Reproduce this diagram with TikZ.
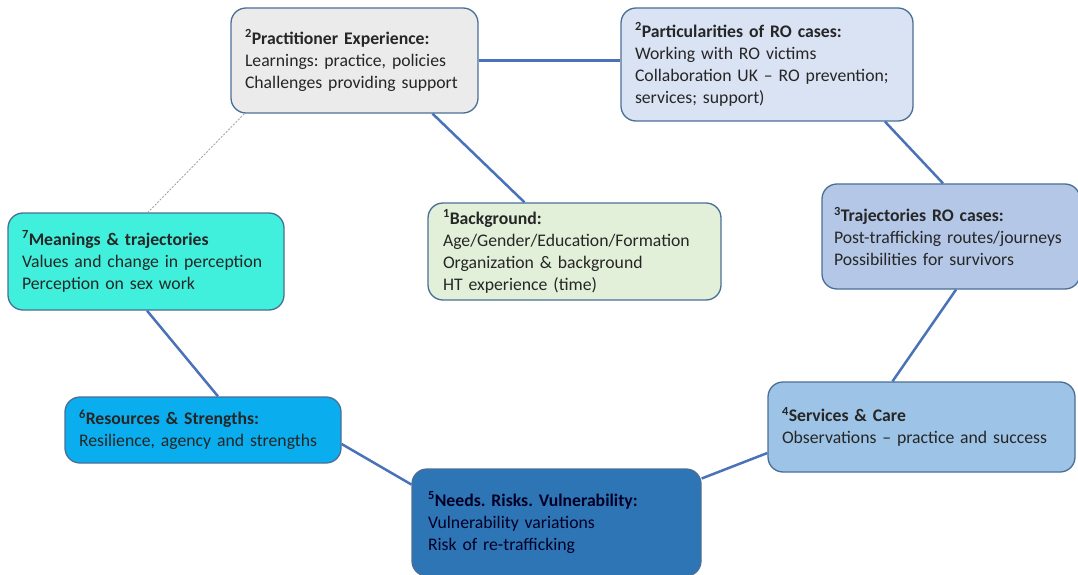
\documentclass[tikz,border=0pt]{standalone}
\usepackage{fontspec}
\setmainfont{Carlito}
\usetikzlibrary{calc}
\definecolor{bordc}{HTML}{4A6F96}
\definecolor{linec}{HTML}{4A72B8}
\definecolor{txtc}{HTML}{262626}
\definecolor{cprac}{HTML}{EBEBEB}
\definecolor{cpart}{HTML}{DAE3F3}
\definecolor{ctraj}{HTML}{B4C7E7}
\definecolor{cserv}{HTML}{9DC3E6}
\definecolor{cneed}{HTML}{2E75B6}
\definecolor{creso}{HTML}{0AAEEE}
\definecolor{cmean}{HTML}{40F0DC}
\definecolor{cback}{HTML}{E2F0D9}
\tikzset{
  box/.style={draw=bordc, line width=1.3pt, rounded corners=15pt, text=txtc,
    align=left, inner xsep=14pt, inner ysep=0pt, font=\fontsize{17.7}{22}\selectfont\frenchspacing},
  link/.style={draw=linec, line width=2.5pt},
  faint/.style={draw=gray!70, line width=0.9pt, dash pattern=on 2pt off 1.5pt}
}
\newcommand{\hd}[2]{\textbf{\textsuperscript{#1}#2}}
\begin{document}
\begin{tikzpicture}[x=1pt,y=1pt]
\useasboundingbox (0,0) rectangle (1078,574);
\fill[white] (0,0) rectangle (1078,574);
% boxes
\node[box, fill=cprac, text width=219pt, minimum height=105pt] (prac) at (354.5,513.5)
  {\hd{2}{Practitioner Experience:}\\Learnings: practice, policies\\Challenges providing support};
\node[box, fill=cpart, text width=264pt, minimum height=113pt] (part) at (767,509.5)
  {\hd{2}{Particularities of RO cases:}\\Working with RO victims\\Collaboration UK -- RO prevention;\\services; support)};
\node[box, fill=cmean, text width=248pt, minimum height=97pt] (mean) at (146,312.5)
  {\hd{7}{Meanings \& trajectories}\\Values and change in perception\\Perception on sex work};
\node[box, fill=cback, text width=263pt, minimum height=97pt, inner xsep=15pt] (back) at (574.5,322.5)
  {\hd{1}{Background:}\\Age/Gender/Education/Formation\\Organization \& background\\HT experience (time)};
\node[box, fill=ctraj, text width=234pt, minimum height=105pt, inner xsep=12pt] (traj) at (951,337.5)
  {\hd{3}{Trajectories RO cases:}\\Post-trafficking routes/journeys\\Possibilities for survivors};
\node[box, fill=creso, text width=248pt, minimum height=66pt] (reso) at (203,144)
  {\hd{6}{Resources \& Strengths:}\\Resilience, agency and strengths};
\node[box, fill=cneed, text width=257pt, minimum height=107pt, inner xsep=16pt, text=black!85!blue] (need) at (556.5,51.5)
  {\hd{5}{Needs. Risks. Vulnerability:}\\Vulnerability variations\\Risk of re-trafficking};
\node[box, fill=cserv, text width=279pt, minimum height=90pt] (serv) at (921.5,147)
  {\hd{4}{Services \& Care}\\Observations -- practice and success};
% connectors
\draw[link] (prac.east) -- (prac.east -| part.west);
\draw[link] ([xshift=78pt]prac.south) -- ([xshift=-50pt]back.north);
\draw[link] ([xshift=118pt]part.south) -- ([xshift=-8pt]traj.north);
\draw[link] ([xshift=5pt]traj.south) -- ([xshift=-29pt]serv.north);
\draw[link] ([yshift=-26pt]serv.west) -- ([yshift=44pt]need.east);
\draw[link] ([yshift=38pt]need.west) -- ([yshift=-14pt]reso.east);
\draw[link] ([xshift=15pt]reso.north) -- ([xshift=1pt]mean.south);
\draw[faint] ([xshift=14pt]prac.south west) -- ([xshift=2pt]mean.north);
\end{tikzpicture}
\end{document}
